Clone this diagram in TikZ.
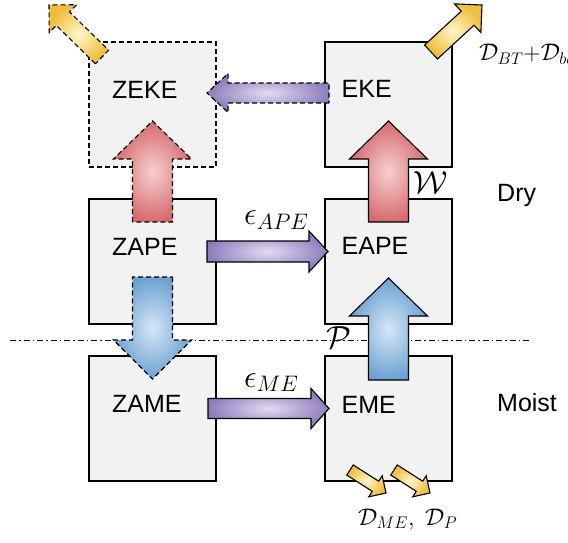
\documentclass[tikz,border=0pt]{standalone}
\usepackage{fix-cm}
\usepackage[no-math]{fontspec}
\setmainfont{Liberation Sans}
\usepackage{xcolor}
\usepackage{tikz}
\usetikzlibrary{positioning,calc}
\definecolor{boxgray}{RGB}{242,242,242}
\definecolor{convin}{RGB}{226,220,241}
\definecolor{convout}{RGB}{142,124,188}
\definecolor{heatin}{RGB}{247,208,208}
\definecolor{heatout}{RGB}{214,106,110}
\definecolor{wetin}{RGB}{214,230,246}
\definecolor{wetout}{RGB}{108,162,210}
\definecolor{lossin}{RGB}{255,246,204}
\definecolor{lossout}{RGB}{240,190,62}
\tikzset{
    box/.style={draw=black, fill=boxgray, line width=1.1pt, minimum width=127pt, minimum height=125pt, inner sep=0pt, outer sep=0pt},
    ghost/.style={box, dash pattern=on 5pt off 3pt},
    tag/.style={font=\fontsize{25}{30}\selectfont, inner sep=0pt, anchor=west},
    sym/.style={font=\fontsize{32}{36}\selectfont, inner sep=0pt},
    flow/.style={draw=black, line width=1.1pt, line join=miter},
    dashflow/.style={flow, dash pattern=on 5pt off 3pt},
    conv/.style={inner color=convin, outer color=convout},
    heat/.style={inner color=heatin, outer color=heatout},
    wet/.style={inner color=wetin, outer color=wetout},
    loss/.style={inner color=lossin, outer color=lossout},
    divider/.style={draw=black, line width=0.9pt, dash pattern=on 6pt off 3pt on 1.5pt off 3pt}
}
% fat arrow: [style]{tail}{tip}{shaft half width}{head half width}{head length}
\newcommand{\fatarrow}[6][]{%
    \coordinate (fa-base) at ($(#3)!#6!(#2)$);
    \draw[#1] ($(#2)!#4!90:(#3)$) -- ($(fa-base)!#4!90:(#3)$) -- ($(fa-base)!#5!90:(#3)$) -- (#3)
        -- ($(fa-base)!#5!-90:(#3)$) -- ($(fa-base)!#4!-90:(#3)$) -- ($(#2)!#4!-90:(#3)$) -- cycle;}
\begin{document}
\begin{tikzpicture}[x=1pt,y=1pt]
\useasboundingbox (0,0) rectangle (568,542);
\clip (0,0) rectangle (568,542);
% reservoirs
\node[ghost] (zeke) at (152.5,437.5) {};
\node[box, right=109pt of zeke] (eke) {};
\node[box, below=32pt of zeke] (zape) {};
\node[box, below=32pt of zape] (zame) {};
\node[box, below=32pt of eke] (eape) {};
\node[box, below=32pt of eape] (eme) {};
\node[tag] (zekeT) at ([xshift=23pt,yshift=15pt]zeke.west) {ZEKE};
\node[tag] (zapeT) at ([xshift=23pt,yshift=15pt]zape.west) {ZAPE};
\node[tag] (zameT) at ([xshift=23pt,yshift=15pt]zame.west) {ZAME};
\node[tag] (ekeT) at ([xshift=16.5pt,yshift=16pt]eke.west) {EKE};
\node[tag] (eapeT) at ([xshift=16.5pt,yshift=16pt]eape.west) {EAPE};
\node[tag] (emeT) at ([xshift=16.5pt,yshift=14pt]eme.west) {EME};
% dry / moist divide
\draw[divider] (10,202) -- (531,202);
% conversion ends
\coordinate (zapeUp) at ([yshift=-23pt]zape.north);
\coordinate (zekeIn) at ([yshift=46pt]zeke.south);
\coordinate (eapeUp) at ([yshift=-23pt]eape.north);
\coordinate (ekeIn) at ([yshift=46pt]eke.south);
\coordinate (zapeDn) at ([yshift=47pt]zape.south);
\coordinate (zameIn) at ([yshift=-23pt]zame.north);
\coordinate (emeUp) at ([yshift=-24pt]eme.north);
\coordinate (eapeIn) at ([yshift=46pt]eape.south);
\coordinate (zapeOut) at ([shift={(-9pt,10pt)}]zape.east);
\coordinate (eapeLeft) at ([shift={(3pt,10pt)}]eape.west);
\coordinate (ekeOut) at ([shift={(4pt,11.5pt)}]eke.west);
\coordinate (zekeRight) at ([shift={(-9pt,11.5pt)}]zeke.east);
\coordinate (zameOut) at ([shift={(-8pt,10pt)}]zame.east);
\coordinate (emeLeft) at ([shift={(4pt,10pt)}]eme.west);
% dissipation ends
\coordinate (zekeLoss) at ([shift={(13pt,-15pt)}]zeke.north west);
\coordinate (zekeSink) at (49,537);
\coordinate (ekeLoss) at ([shift={(-21pt,-10pt)}]eke.north east);
\coordinate (ekeSink) at (482,537);
\coordinate (emeLossA) at ([shift={(-38.5pt,11pt)}]eme.south);
\coordinate (emeSinkA) at (386,49);
\coordinate (emeLossB) at ([shift={(5.5pt,11pt)}]eme.south);
\coordinate (emeSinkB) at (430,49);
% flows
\fatarrow[dashflow, heat]{zapeUp}{zekeIn}{20pt}{39pt}{38pt}
\fatarrow[flow, heat]{eapeUp}{ekeIn}{20pt}{39pt}{38pt}
\fatarrow[dashflow, wet]{zapeDn}{zameIn}{20pt}{39pt}{39pt}
\fatarrow[flow, wet]{emeUp}{eapeIn}{20pt}{39pt}{38pt}
\fatarrow[flow, conv]{zapeOut}{eapeLeft}{10.5pt}{20.5pt}{19pt}
\fatarrow[dashflow, conv]{ekeOut}{zekeRight}{10pt}{19.5pt}{21pt}
\fatarrow[flow, conv]{zameOut}{emeLeft}{10pt}{20pt}{18pt}
\fatarrow[dashflow, loss]{zekeLoss}{zekeSink}{9.5pt}{19.5pt}{19.5pt}
\fatarrow[flow, loss]{ekeLoss}{ekeSink}{9.5pt}{19.5pt}{19.5pt}
\fatarrow[flow, loss]{emeLossA}{emeSinkA}{6pt}{12.5pt}{12.5pt}
\fatarrow[flow, loss]{emeLossB}{emeSinkB}{6pt}{12.5pt}{12.5pt}
% labels
\node[sym, anchor=base west] (epsA) at (244,317) {$\epsilon_{APE}$};
\node[sym, anchor=base west] (epsM) at (244,155) {$\epsilon_{ME}$};
\node[sym] (work) at (431,359) {$\mathcal{W}$};
\node[sym] (prec) at (339,204) {$\mathcal{P}$};
\node[tag, anchor=base west] (dry) at (497,340) {Dry};
\node[tag, anchor=base west] (moist) at (497,131) {Moist};
\node[inner sep=0pt, anchor=base west, font=\fontsize{24}{28}\selectfont] (dke) at (479,481) {$\mathcal{D}_{BT}{+}\mathcal{D}_{bc}$};
\node[inner sep=0pt, anchor=base west, font=\fontsize{24}{28}\selectfont] (dme) at (358,17) {$\mathcal{D}_{ME},\ \mathcal{D}_{P}$};
\end{tikzpicture}
\end{document}
